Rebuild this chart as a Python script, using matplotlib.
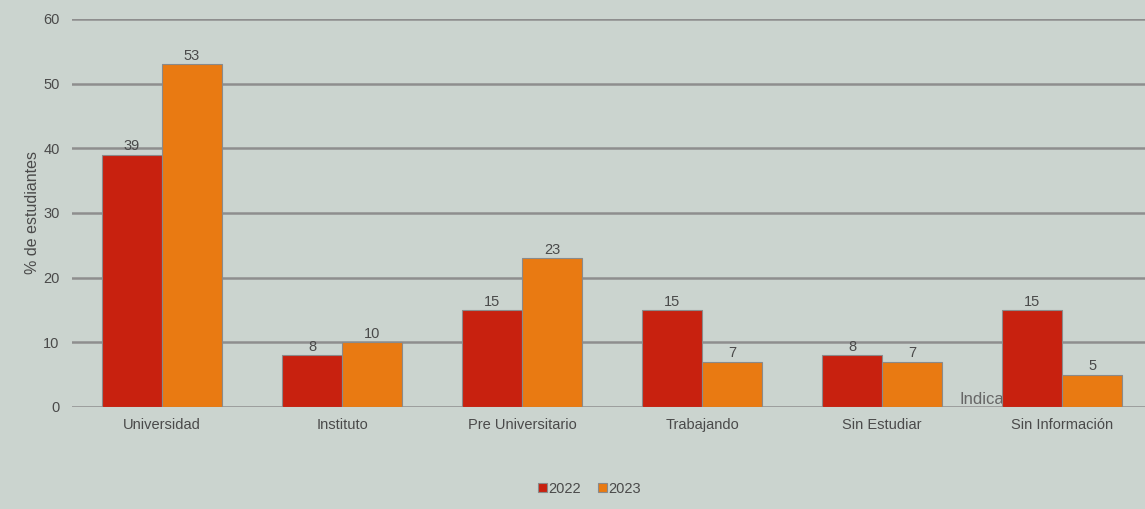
import numpy as np
import matplotlib
matplotlib.use('Agg')
import matplotlib.pyplot as plt

# Datos
categorias = ['Universidad', 'Instituto', 'Pre Universitario', 'Trabajando', 'Sin Estudiar', 'Sin Información']
valores_2022 = [39, 8, 15, 15, 8, 15]
valores_2023 = [53, 10, 23, 7, 7, 5]
series = ['2022', '2023']

FONDO = '#cbd4cf'
ROJO = '#c8210f'
NARANJA = '#e97a12'
TEXTO = '#4a4a4a'

plt.rcParams['font.family'] = ['Liberation Sans Narrow', 'Liberation Sans', 'DejaVu Sans']

fig = plt.figure(figsize=(11.45, 5.09), dpi=100, facecolor=FONDO)
ax = fig.add_axes([72 / 1145, 102 / 509, 1 - 72 / 1145, 388 / 509])
ax.set_facecolor(FONDO)

x = np.arange(len(categorias))
ancho = 1 / 3

b1 = ax.bar(x - ancho / 2, valores_2022, ancho, color=ROJO, edgecolor='#8a8a8a', linewidth=0.8, zorder=3, label=series[0])
b2 = ax.bar(x + ancho / 2, valores_2023, ancho, color=NARANJA, edgecolor='#8a8a8a', linewidth=0.8, zorder=3, label=series[1])

for barras in (b1, b2):
    ax.bar_label(barras, padding=1, fontsize=10.5, color=TEXTO)

# texto parcialmente oculto detrás de la barra
ax.text(4.43, 0.4, 'Indicador', fontsize=12, color='#666666', zorder=1)

ax.set_ylim(0, 60)
ax.set_xlim(-0.5, 5.46)
ax.set_yticks(range(0, 61, 10))
ax.yaxis.grid(True, color='#8e8e8e', linewidth=1.8, zorder=0)
ax.set_axisbelow(True)
for s in ax.spines.values():
    s.set_visible(False)
ax.tick_params(axis='both', length=0, colors=TEXTO, labelsize=10.5)
ax.tick_params(axis='y', pad=9)
ax.tick_params(axis='x', pad=8)
ax.set_xticks(x)
ax.set_xticklabels(categorias)
ax.set_ylabel('% de estudiantes', fontsize=11.5, color=TEXTO)
ax.yaxis.set_label_coords(-0.03, 0.5)

fig.legend(loc='lower center', bbox_to_anchor=(0.515, 0.0), ncol=2, frameon=False,
           fontsize=10.5, handlelength=0.6, handleheight=0.6, handletextpad=0.1,
           columnspacing=1.2, labelcolor=TEXTO)

fig.savefig('out.png', dpi=100, facecolor=FONDO)
